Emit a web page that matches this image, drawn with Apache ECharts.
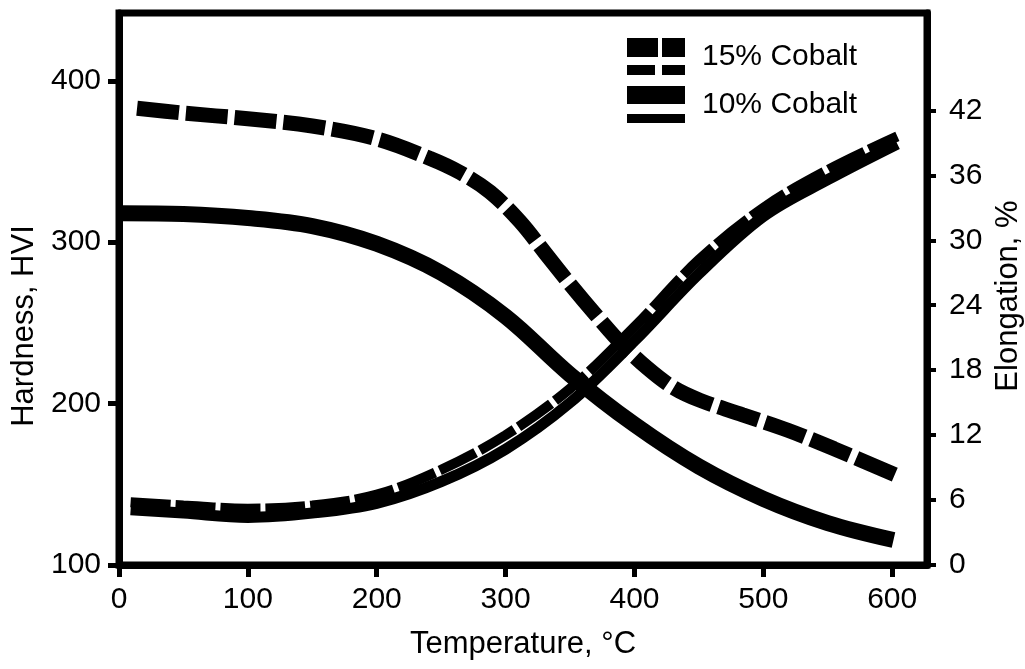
<!DOCTYPE html>
<html>
<head>
<meta charset="utf-8">
<script src="https://cdn.jsdelivr.net/npm/echarts@6/dist/echarts.min.js"></script>
<style>
html,body{margin:0;padding:0;background:#fff;}
#chart{width:1025px;height:669px;}
</style>
</head>
<body>
<div id="chart"></div>
<script>
// Tick labels
const tempTicks = [0, 100, 200, 300, 400, 500, 600];
const hardTicks = [100, 200, 300, 400];
const elongTicks = [0, 6, 12, 18, 24, 30, 36, 42];

// Hardness, HVI — 15% Cobalt (thick dashed)
const hard15T = [14, 50, 100, 150, 200, 241, 265, 288, 311, 331, 350, 370, 390, 410, 430, 451, 484, 519, 555, 602];
const hard15V = [383, 380, 376.5, 372, 364, 352, 343, 331, 313, 293, 274, 255, 237, 222, 210, 202, 193, 183.5, 172, 156];

// Hardness, HVI — 10% Cobalt (thick solid)
const hard10T = [2, 50, 100, 150, 200, 250, 300, 350, 400, 450, 500, 550, 601];
const hard10V = [318, 317.5, 315, 310, 299, 281, 254, 218, 187, 161, 141, 126, 115.5];

// Elongation, % — 15% Cobalt (thin dashed)
const elong15T = [9, 50, 100, 150, 200, 250, 300, 350, 400, 450, 500, 550, 604];
const elong15V = [5.8, 5.5, 5.2, 5.5, 6.5, 8.8, 12.0, 16.3, 22.0, 28.2, 33.0, 36.5, 39.6];

// Elongation, % — 10% Cobalt (thin solid)
const elong10T = [9, 50, 100, 150, 200, 250, 300, 350, 400, 450, 500, 550, 604];
const elong10V = [5.1, 4.8, 4.4, 4.8, 5.7, 7.7, 10.7, 15.0, 20.7, 26.9, 32.2, 35.6, 38.9];

const names = ['15% Cobalt', '10% Cobalt'];

function pairs(xs, ys) { return xs.map((x, i) => [x, ys[i]]); }

const FONT = 'Liberation Sans, Arial, Helvetica, sans-serif';
const txt = { color: '#000', fontFamily: FONT, fontSize: 30 };

const chart = echarts.init(document.getElementById('chart'), null, { renderer: 'canvas' });
chart.setOption({
  animation: false,
  backgroundColor: '#fff',
  grid: {
    left: 119, right: 98, top: 13, bottom: 104,
    show: true, borderColor: '#000', borderWidth: 7,
    outerBoundsMode: 'none'
  },
  legend: {
    orient: 'vertical', left: 622, top: 33,
    itemWidth: 58, itemHeight: 37, itemGap: 11,
    textStyle: Object.assign({}, txt, { padding: [0, 0, 0, 12] }),
    selectedMode: false,
    data: [
      { name: names[0], icon: 'path://M0,0H31V19H0Z M35,0H58V19H35Z M0,27H28V37H0Z M35,27H58V37H35Z', itemStyle: { color: '#000' } },
      { name: names[1], icon: 'path://M0,0H58V18H0Z M0,28H58V37H0Z', itemStyle: { color: '#000' } }
    ]
  },
  xAxis: {
    type: 'value', min: 0, max: 627,
    name: 'Temperature, °C', nameLocation: 'middle', nameGap: 64,
    nameTextStyle: Object.assign({}, txt, { fontSize: 31 }),
    splitLine: { show: false },
    axisLine: { show: true, lineStyle: { color: '#000', width: 7 } },
    axisTick: { show: true, length: 12, lineStyle: { color: '#000', width: 5 }, customValues: tempTicks },
    axisLabel: Object.assign({}, txt, { margin: 20, customValues: tempTicks })
  },
  yAxis: [
    {
      type: 'value', position: 'left', min: 100, max: 442,
      name: 'Hardness, HVI', nameLocation: 'middle', nameGap: 76,
      nameTextStyle: Object.assign({}, txt, { fontSize: 31, padding: [0, 74, 0, 0] }),
      splitLine: { show: false },
      axisLine: { show: true, lineStyle: { color: '#000', width: 7 } },
      axisTick: { show: true, length: 11, lineStyle: { color: '#000', width: 5 }, customValues: hardTicks },
      axisLabel: Object.assign({}, txt, { margin: 18, customValues: hardTicks })
    },
    {
      type: 'value', position: 'right', min: 0, max: 51,
      name: 'Elongation, %', nameLocation: 'middle', nameGap: 62,
      nameTextStyle: Object.assign({}, txt, { fontSize: 31, padding: [0, 14, 0, 0] }),
      splitLine: { show: false },
      axisLine: { show: true, lineStyle: { color: '#000', width: 7 } },
      axisTick: { show: true, length: 9, lineStyle: { color: '#000', width: 4 }, customValues: elongTicks },
      axisLabel: Object.assign({}, txt, { margin: 22, customValues: elongTicks })
    }
  ],
  series: [
    {
      name: names[1], type: 'line', yAxisIndex: 1, data: pairs(elong10T, elong10V),
      smooth: 0.35, symbol: 'none', color: '#000',
      lineStyle: { color: '#000', width: 11, type: 'solid', cap: 'butt' }
    },
    {
      name: names[0], type: 'line', yAxisIndex: 1, data: pairs(elong15T, elong15V),
      smooth: 0.35, symbol: 'none', color: '#000',
      lineStyle: { color: '#000', width: 10, type: [40, 5], cap: 'butt' }
    },
    {
      name: names[0], type: 'line', yAxisIndex: 0, data: pairs(hard15T, hard15V),
      smooth: 0.35, symbol: 'none', color: '#000',
      lineStyle: { color: '#000', width: 15, type: [42, 7], cap: 'butt' }
    },
    {
      name: names[1], type: 'line', yAxisIndex: 0, data: pairs(hard10T, hard10V),
      smooth: 0.35, symbol: 'none', color: '#000',
      lineStyle: { color: '#000', width: 16, type: 'solid', cap: 'butt' }
    }
  ]
});
</script>
</body>
</html>
